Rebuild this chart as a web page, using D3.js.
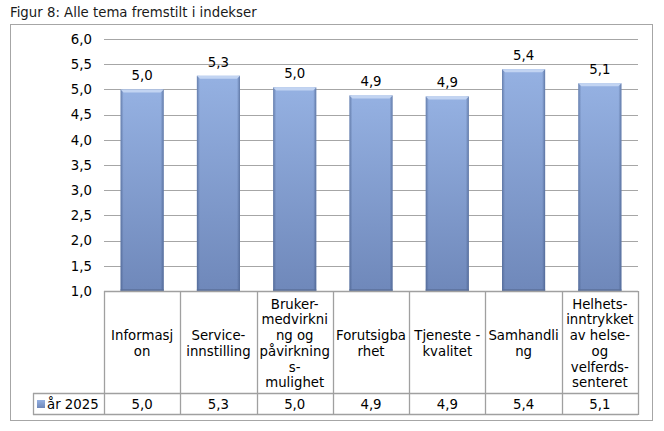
<!DOCTYPE html>
<html>
<head>
<meta charset="utf-8">
<script src="https://cdn.jsdelivr.net/npm/d3@7"></script>
<style>
body { margin: 0; background: #fff; }
text { font-family: "DejaVu Sans", Verdana, sans-serif; fill: #000; }
</style>
</head>
<body>
<svg id="chart" width="664" height="431"></svg>
<script>
// data
var categories = ["Informasjon", "Serviceinnstilling", "Brukermedvirkning", "Forutsigbarhet",
                  "Tjenestekvalitet", "Samhandling", "Helhetsinntrykket"];
// wrapped labels as they appear in the table
var catLines = [
    ["Informasj", "on"],
    ["Service-", "innstilling"],
    ["Bruker-", "medvirkni", "ng og", "påvirkning", "s-", "mulighet"],
    ["Forutsigba", "rhet"],
    ["Tjeneste -", "kvalitet"],
    ["Samhandli", "ng"],
    ["Helhets-", "inntrykket", "av helse-", "og", "velferds-", "senteret"]
];
var values = [5.0, 5.27, 5.04, 4.88, 4.86, 5.40, 5.12];
var seriesName = "år 2025";
var yTicks = [1.0, 1.5, 2.0, 2.5, 3.0, 3.5, 4.0, 4.5, 5.0, 5.5, 6.0];

var fmt = function(v) { return d3.format(".1f")(v).replace(".", ","); };

var svg = d3.select("#chart");
var fs = 13.3;
var gridCol = "#a6a6a6";
var tableCol = "#a0a0a0";

// title
svg.append("text")
    .attr("x", 10).attr("y", 17)
    .style("font-size", fs + "px")
    .style("fill", "#1a1a1a")
    .text("Figur 8: Alle tema fremstilt i indekser");

// outer frame
svg.append("rect")
    .attr("x", 10.5).attr("y", 24.5)
    .attr("width", 642).attr("height", 396)
    .attr("fill", "none")
    .attr("stroke", "#a6a6a6");

var plotL = 104, plotR = 638, plotT = 39, plotB = 291;

var x = d3.scaleBand()
    .domain(categories)
    .range([plotL, plotR])
    .paddingInner(0.435)
    .paddingOuter(0.2175);

var y = d3.scaleLinear()
    .domain([1, 6])
    .range([plotB, plotT]);

// gradients
var defs = svg.append("defs");
var gv = defs.append("linearGradient").attr("id", "barV")
    .attr("x1", 0).attr("y1", 0).attr("x2", 0).attr("y2", 1);
gv.append("stop").attr("offset", "0%").attr("stop-color", "#95b1e2");
gv.append("stop").attr("offset", "100%").attr("stop-color", "#6f88ba");

var gh = defs.append("linearGradient").attr("id", "barH")
    .attr("x1", 0).attr("y1", 0).attr("x2", 1).attr("y2", 0);
gh.append("stop").attr("offset", "0%").attr("stop-color", "#3f5580").attr("stop-opacity", 0.55);
gh.append("stop").attr("offset", "7%").attr("stop-color", "#3f5580").attr("stop-opacity", 0.0);
gh.append("stop").attr("offset", "93%").attr("stop-color", "#3f5580").attr("stop-opacity", 0.0);
gh.append("stop").attr("offset", "100%").attr("stop-color", "#3f5580").attr("stop-opacity", 0.6);

// gridlines
svg.append("g")
    .selectAll("line")
    .data(yTicks.slice(1))
    .join("line")
    .attr("x1", plotL).attr("x2", plotR)
    .attr("y1", function(d) { return Math.round(y(d)) + 0.5; })
    .attr("y2", function(d) { return Math.round(y(d)) + 0.5; })
    .attr("stroke", gridCol);

// y axis labels
var yAxis = d3.axisLeft(y)
    .tickValues(yTicks)
    .tickSize(0)
    .tickPadding(12)
    .tickFormat(fmt);
var ya = svg.append("g")
    .attr("transform", "translate(" + plotL + ",0)")
    .call(yAxis);
ya.select(".domain").remove();
ya.selectAll("text")
    .style("font-size", fs + "px")
    .style("font-family", "DejaVu Sans, Verdana, sans-serif")
    .attr("fill", "#000");

// bars
var bars = svg.append("g").selectAll("g")
    .data(values)
    .join("g");

bars.append("rect")
    .attr("x", function(d, i) { return x(categories[i]); })
    .attr("y", function(d) { return y(d); })
    .attr("width", x.bandwidth())
    .attr("height", function(d) { return plotB - y(d); })
    .attr("fill", "url(#barV)");

bars.append("rect")
    .attr("x", function(d, i) { return x(categories[i]); })
    .attr("y", function(d) { return y(d); })
    .attr("width", x.bandwidth())
    .attr("height", function(d) { return plotB - y(d); })
    .attr("fill", "url(#barH)");

// top bevel
bars.append("path")
    .attr("d", function(d, i) {
        var x0 = x(categories[i]), x1 = x0 + x.bandwidth(), t = y(d);
        return "M" + x0 + "," + t + "L" + x1 + "," + t + "L" + (x1 - 3) + "," + (t + 3) +
               "L" + (x0 + 3) + "," + (t + 3) + "Z";
    })
    .attr("fill", "#c2d4f2");

// bottom shade
bars.append("rect")
    .attr("x", function(d, i) { return x(categories[i]); })
    .attr("y", plotB - 2)
    .attr("width", x.bandwidth())
    .attr("height", 2)
    .attr("fill", "#5a6f99")
    .attr("opacity", 0.7);

// value labels
bars.append("text")
    .attr("x", function(d, i) { return x(categories[i]) + x.bandwidth() / 2; })
    .attr("y", function(d) { return y(d) - 9; })
    .attr("text-anchor", "middle")
    .style("font-size", fs + "px")
    .text(function(d) { return fmt(d); });

// data table
var tTop = plotB + 1, tMid = 393, tBot = 414, hdrLeft = 33;
var step = x.step();
var table = svg.append("g");

// horizontal lines
table.append("line")
    .attr("x1", plotL).attr("x2", plotR)
    .attr("y1", tTop - 0.5).attr("y2", tTop - 0.5)
    .attr("stroke", tableCol).attr("stroke-width", 1.3);
[tMid, tBot].forEach(function(yy) {
    table.append("line")
        .attr("x1", hdrLeft).attr("x2", plotR)
        .attr("y1", yy + 0.5).attr("y2", yy + 0.5)
        .attr("stroke", tableCol).attr("stroke-width", 1.3);
});
table.append("line")
    .attr("x1", hdrLeft + 0.5).attr("x2", hdrLeft + 0.5)
    .attr("y1", tMid).attr("y2", tBot + 1)
    .attr("stroke", tableCol).attr("stroke-width", 1.3);

// vertical lines at column boundaries
var bounds = d3.range(categories.length + 1).map(function(i) { return plotL + i * step; });
table.selectAll("line.col")
    .data(bounds)
    .join("line")
    .attr("class", "col")
    .attr("x1", function(d) { return Math.round(d) + 0.5; })
    .attr("x2", function(d) { return Math.round(d) + 0.5; })
    .attr("y1", tTop - 1).attr("y2", tBot + 1)
    .attr("stroke", tableCol).attr("stroke-width", 1.3);

// category labels
var lh = 15.7;
var cellMid = (tTop + tMid) / 2 + 1;
table.selectAll("text.cat")
    .data(catLines)
    .join("text")
    .attr("class", "cat")
    .attr("text-anchor", "middle")
    .style("font-size", fs + "px")
    .each(function(lines, i) {
        var cx = plotL + (i + 0.5) * step;
        var y0 = cellMid - (lines.length - 1) * lh / 2 + 4.5;
        d3.select(this).selectAll("tspan")
            .data(lines)
            .join("tspan")
            .attr("x", cx)
            .attr("y", function(d, j) { return y0 + j * lh; })
            .text(function(d) { return d; });
    });

// value row
table.selectAll("text.val")
    .data(values)
    .join("text")
    .attr("class", "val")
    .attr("x", function(d, i) { return plotL + (i + 0.5) * step; })
    .attr("y", (tMid + tBot) / 2 + 5)
    .attr("text-anchor", "middle")
    .style("font-size", fs + "px")
    .text(function(d) { return fmt(d); });

// legend key + series name
table.append("rect")
    .attr("x", 37).attr("y", 400)
    .attr("width", 8).attr("height", 8)
    .attr("fill", "url(#barV)");
table.append("text")
    .attr("x", 47).attr("y", (tMid + tBot) / 2 + 5)
    .style("font-size", fs + "px")
    .text(seriesName);
</script>
</body>
</html>
